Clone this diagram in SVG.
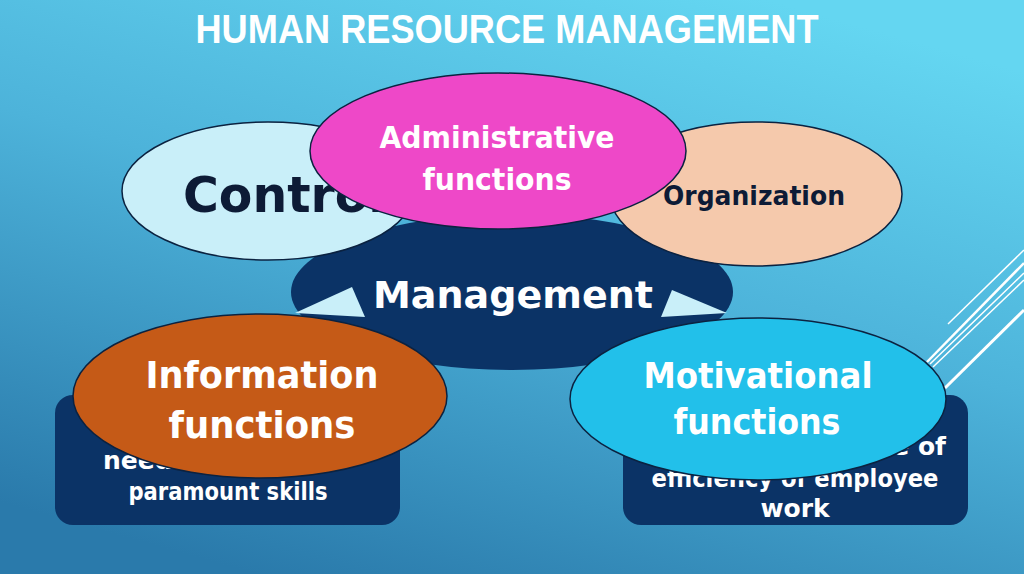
<svg xmlns="http://www.w3.org/2000/svg" width="1024" height="574" viewBox="0 0 1024 574">
<defs>
<linearGradient id="bg" x1="0.75" y1="0" x2="0.25" y2="1">
<stop offset="0" stop-color="#64d6f1"/>
<stop offset="0.45" stop-color="#4db3da"/>
<stop offset="1" stop-color="#2a7aab"/>
</linearGradient>
<style>
.el{stroke:#0b2240;stroke-width:1.5}
.w{fill:#ffffff;font-family:"DejaVu Sans",sans-serif;font-weight:bold;text-anchor:middle}
.d{fill:#0d1b36;font-family:"DejaVu Sans",sans-serif;font-weight:bold;text-anchor:middle}
.box{fill:#0b3366}
.ln{stroke:#ffffff;fill:none}
</style>
</defs>
<rect width="1024" height="574" fill="url(#bg)"/>
<text x="507" y="43" fill="#ffffff" font-family="'Liberation Sans',sans-serif" font-weight="bold" font-size="40" text-anchor="middle" textLength="623" lengthAdjust="spacingAndGlyphs">HUMAN RESOURCE MANAGEMENT</text>

<g id="decor">
<line class="ln" x1="948" y1="324" x2="1024" y2="250" stroke-width="1.5"/>
<line class="ln" x1="927" y1="362" x2="1024" y2="263" stroke-width="2.5"/>
<line class="ln" x1="930" y1="364" x2="1024" y2="273" stroke-width="1.5"/>
<line class="ln" x1="933" y1="367" x2="1024" y2="280" stroke-width="1.5"/>
<line class="ln" x1="945" y1="388" x2="1024" y2="310" stroke-width="3"/>
</g>

<g id="management">
<ellipse cx="512" cy="292" rx="221" ry="78" fill="#0b3366"/>
<polygon points="352,287 295,313 365,317" fill="#c9eff9"/>
<polygon points="672,290 661,317 727,313" fill="#c9eff9"/>
<text class="w" x="513" y="308" font-size="38" textLength="280" lengthAdjust="spacingAndGlyphs">Management</text>
</g>

<g id="control">
<ellipse class="el" cx="268" cy="191" rx="146" ry="69" fill="#c9eff9"/>
<text class="d" x="284" y="212" font-size="50" textLength="202" lengthAdjust="spacingAndGlyphs">Control</text>
</g>

<g id="organization">
<ellipse class="el" cx="756" cy="194" rx="146" ry="72" fill="#f5c9ac"/>
<text class="d" x="754" y="205" font-size="27" textLength="182" lengthAdjust="spacingAndGlyphs">Organization</text>
</g>

<g id="administrative">
<ellipse class="el" cx="498" cy="151" rx="188" ry="78" fill="#ee48c8"/>
<text class="w" x="497" y="148" font-size="31" textLength="235" lengthAdjust="spacingAndGlyphs">Administrative</text>
<text class="w" x="497" y="190" font-size="31" textLength="149" lengthAdjust="spacingAndGlyphs">functions</text>
</g>

<g id="box-left">
<rect class="box" x="55" y="395" width="345" height="130" rx="18"/>
<text x="103" y="469" fill="#ffffff" font-family="'DejaVu Sans',sans-serif" font-weight="bold" font-size="25">need</text>
<text class="w" x="228" y="500" font-size="24" textLength="199" lengthAdjust="spacingAndGlyphs">paramount skills</text>
</g>

<g id="box-right">
<rect class="box" x="623" y="395" width="345" height="130" rx="18"/>
<text x="946" y="455" fill="#ffffff" font-family="'DejaVu Sans',sans-serif" font-weight="bold" font-size="25" text-anchor="end">e of</text>
<text class="w" x="795" y="487" font-size="25" textLength="287" lengthAdjust="spacingAndGlyphs">efficiency of employee</text>
<text class="w" x="795" y="517" font-size="25">work</text>
</g>

<g id="information">
<ellipse class="el" cx="260" cy="396" rx="187" ry="82" fill="#c55a17"/>
<text class="w" x="262" y="388" font-size="38" textLength="233" lengthAdjust="spacingAndGlyphs">Information</text>
<text class="w" x="262" y="438" font-size="38" textLength="187" lengthAdjust="spacingAndGlyphs">functions</text>
</g>

<g id="motivational">
<ellipse class="el" cx="758" cy="399" rx="188" ry="81" fill="#22c0ea"/>
<text class="w" x="758" y="388" font-size="36" textLength="229" lengthAdjust="spacingAndGlyphs">Motivational</text>
<text class="w" x="757" y="434" font-size="36" textLength="167" lengthAdjust="spacingAndGlyphs">functions</text>
</g>
</svg>
